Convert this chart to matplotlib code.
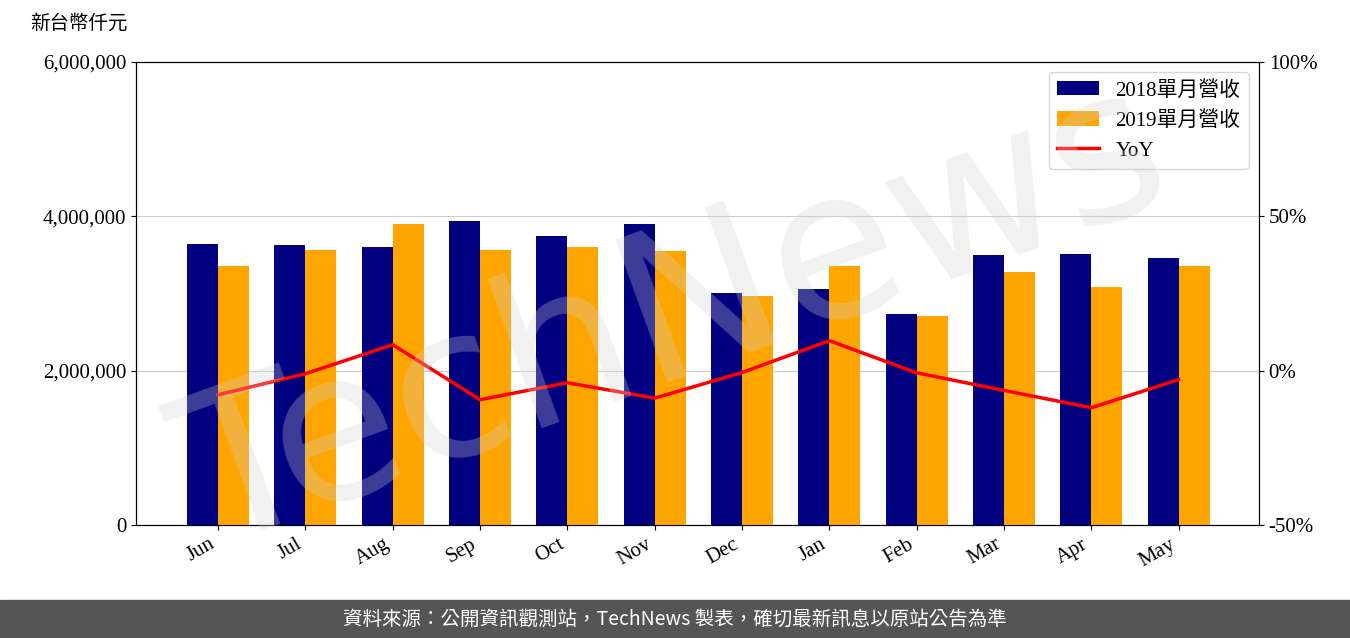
import matplotlib.pyplot as plt
import numpy as np

months = ['Jun', 'Jul', 'Aug', 'Sep', 'Oct', 'Nov', 'Dec', 'Jan', 'Feb', 'Mar', 'Apr', 'May']
rev2018 = [3640000, 3630000, 3600000, 3940000, 3745000, 3900000, 3010000, 3060000, 2730000, 3500000, 3510000, 3460000]
rev2019 = [3360000, 3560000, 3900000, 3560000, 3600000, 3550000, 2970000, 3360000, 2710000, 3280000, 3080000, 3360000]
yoy = [-7.8, -1.0, 8.4, -9.4, -3.9, -8.9, -0.6, 9.7, -0.7, -6.4, -12.0, -2.9]

plt.rcParams['font.family'] = ['Liberation Serif', 'Noto Sans CJK TC']

fig = plt.figure(figsize=(13.5, 6.38), dpi=100)
ax = fig.add_axes([0.1007, 0.177, 0.8319, 0.726])
x = np.arange(len(months))
w = 0.355
ax.bar(x - w / 2, rev2018, w, color='#000080', label='2018單月營收', zorder=3)
ax.bar(x + w / 2, rev2019, w, color='#FFA500', label='2019單月營收', zorder=3)
ax.set_xlim(-0.94, 11.92)
ax.set_ylim(0, 6000000)
ax.set_yticks([0, 2000000, 4000000, 6000000])
ax.set_yticklabels(['0', '2,000,000', '4,000,000', '6,000,000'], fontsize=15)
ax.set_xticks(x)
ax.set_xticklabels(months, rotation=30, ha='right', fontsize=15)
ax.grid(axis='y', color='#cccccc', zorder=0)

ax2 = ax.twinx()
ax2.plot(x, yoy, color='red', lw=2.5, label='YoY')
ax2.set_ylim(-50, 100)
ax2.set_yticks([-50, 0, 50, 100])
ax2.set_yticklabels(['-50%', '0%', '50%', '100%'], fontsize=15)

h1, l1 = ax.get_legend_handles_labels()
h2, l2 = ax2.get_legend_handles_labels()
ax2.legend(h1 + h2, l1 + l2, loc='upper right', fontsize=15)

fig.text(0.022, 0.955, '新台幣仟元', fontsize=14, family=['Noto Sans CJK TC'])
fig.text(0.5, 0.5, 'TechNews', fontsize=150, color='#d0d0d0', alpha=0.3,
         rotation=20, ha='center', va='center', zorder=0, family=['DejaVu Sans'])

fig.patches.append(plt.Rectangle((0, 0), 1, 0.06, transform=fig.transFigure,
                                 color='#555555', zorder=-1))
fig.text(0.5, 0.03, '資料來源：公開資訊觀測站，TechNews 製表，確切最新訊息以原站公告為準',
         color='white', fontsize=14, ha='center', va='center', family=['Noto Sans CJK TC'])

fig.savefig('out.png')
